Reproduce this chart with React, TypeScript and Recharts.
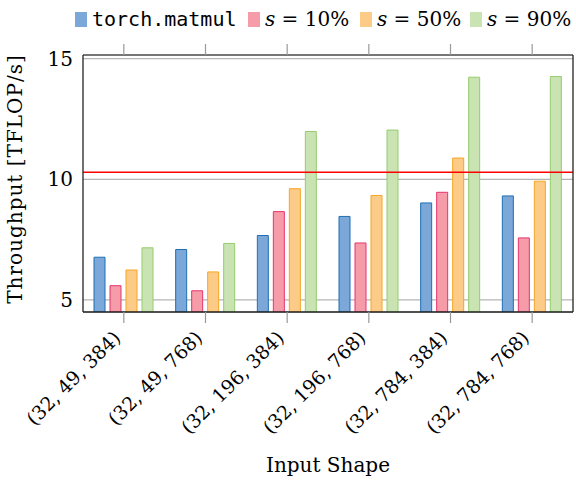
import React from 'react';
import { BarChart, Bar, XAxis, YAxis, CartesianGrid, ReferenceLine } from 'recharts';

const categories = ['(32, 49, 384)', '(32, 49, 768)', '(32, 196, 384)', '(32, 196, 768)', '(32, 784, 384)', '(32, 784, 768)'];
const torchMatmul = [6.77, 7.09, 7.67, 8.46, 9.02, 9.31];
const sparsity10 = [5.59, 5.38, 8.66, 7.36, 9.46, 7.57];
const sparsity50 = [6.24, 6.16, 9.61, 9.33, 10.88, 9.92];
const sparsity90 = [7.16, 7.34, 11.98, 12.04, 14.23, 14.26];
const yTicks = [5, 10, 15];
const referenceThroughput = 10.29;

const data = categories.map((shape, i) => ({
  shape,
  torch: torchMatmul[i],
  s10: sparsity10[i],
  s50: sparsity50[i],
  s90: sparsity90[i],
}));

const SERIF = 'DejaVu Serif';

const XTick = (props: any) => {
  const { x, y, payload } = props;
  return (
    <text
      transform={`translate(${x - 2},${y + 14}) rotate(-45)`}
      textAnchor="end"
      fontSize={19}
      fontFamily={SERIF}
      fill="#000"
    >
      {payload.value}
    </text>
  );
};

const Legend = () => {
  const items = [
    { x: 75, fill: '#7ba7d9', label: 'torch.matmul', mono: true },
    { x: 248, fill: '#f59ca8', label: '10%' },
    { x: 360, fill: '#fdcb88', label: '50%' },
    { x: 470, fill: '#c9e3b3', label: '90%' },
  ];
  return (
    <svg width={576} height={40} style={{ position: 'absolute', left: 0, top: 0 }}>
      {items.map((it) => (
        <g key={it.label}>
          <rect x={it.x} y={12} width={12} height={15} fill={it.fill} />
          {it.mono ? (
            <text x={it.x + 17} y={26} fontFamily="DejaVu Sans Mono" fontSize={20} fill="#000">
              {it.label}
            </text>
          ) : (
            <text x={it.x + 17} y={26} fontFamily={SERIF} fontSize={20} fill="#000">
              <tspan fontStyle="italic">s</tspan>
              <tspan> = {it.label}</tspan>
            </text>
          )}
        </g>
      ))}
    </svg>
  );
};

export default function App() {
  return (
    <div style={{ position: 'absolute', left: 0, top: 0, width: 576, height: 481, background: '#fff' }}>
      <BarChart
        width={576}
        height={481}
        data={data}
        margin={{ top: 44, right: 0, bottom: 0, left: 0 }}
        barSize={11}
        barGap={5}
        style={{ fontFamily: SERIF }}
      >
        <CartesianGrid vertical={false} stroke="#b5b5b5" strokeWidth={1.2} />
        <XAxis
          dataKey="shape"
          height={169}
          interval={0}
          tickSize={11}
          tickLine={{ stroke: '#999', strokeWidth: 1.2 }}
          axisLine={{ stroke: '#222', strokeWidth: 1.3 }}
          tick={<XTick />}
          label={{
            content: () => (
              <text x={328} y={472} textAnchor="middle" fontSize={20} fontFamily={SERIF} fill="#000">
                Input Shape
              </text>
            ),
          }}
        />
        <XAxis
          xAxisId="top"
          orientation="top"
          dataKey="shape"
          height={11}
          interval={0}
          tickSize={11}
          tickLine={{ stroke: '#999', strokeWidth: 1.2 }}
          axisLine={{ stroke: '#555', strokeWidth: 1.3 }}
          tickFormatter={() => ''}
        />
        <YAxis
          width={83}
          domain={[4.5, 15.15]}
          ticks={yTicks}
          allowDataOverflow
          tickLine={false}
          tickSize={0}
          tickMargin={10}
          axisLine={{ stroke: '#222', strokeWidth: 1.3 }}
          tick={{ fontSize: 20, fill: '#000', fontFamily: SERIF }}
          label={{
            content: () => (
              <text
                transform="translate(22,179) rotate(-90)"
                textAnchor="middle"
                fontSize={20}
                letterSpacing={1}
                fontFamily={SERIF}
                fill="#000"
              >
                Throughput [TFLOP/s]
              </text>
            ),
          }}
        />
        <YAxis
          yAxisId="right"
          orientation="right"
          width={3}
          domain={[4.5, 15.15]}
          ticks={yTicks}
          allowDataOverflow
          tickLine={false}
          axisLine={{ stroke: '#222', strokeWidth: 1.3 }}
          tickFormatter={() => ''}
        />
        <ReferenceLine y={referenceThroughput} stroke="#ff0000" strokeWidth={1.4} />
        <Bar dataKey="torch" fill="#7ba7d9" stroke="#1f6fb4" strokeWidth={1} isAnimationActive={false} />
        <Bar dataKey="s10" fill="#f59ca8" stroke="#e8336e" strokeWidth={1} isAnimationActive={false} />
        <Bar dataKey="s50" fill="#fdcb88" stroke="#f5a623" strokeWidth={1} isAnimationActive={false} />
        <Bar dataKey="s90" fill="#c9e3b3" stroke="#95cc6e" strokeWidth={1} isAnimationActive={false} />
      </BarChart>
      <Legend />
    </div>
  );
}
